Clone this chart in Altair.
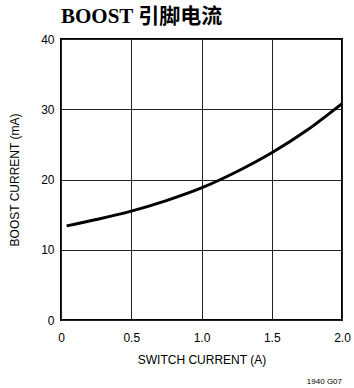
import altair as alt
import pandas as pd

# Data
switch_current = [0.04, 0.25, 0.5, 0.75, 1.0, 1.25, 1.5, 1.75, 2.0]
boost_current = [13.4, 14.3, 15.5, 17.0, 18.8, 21.1, 23.8, 27.0, 30.8]
x_ticks = [0, 0.5, 1.0, 1.5, 2.0]
y_ticks = [0, 10, 20, 30, 40]

df = pd.DataFrame({"x": switch_current, "y": boost_current})

W, H = 281, 281

line = alt.Chart(df).mark_line(color="black", strokeWidth=3, interpolate="monotone").encode(
    x=alt.X("x:Q", scale=alt.Scale(domain=[0, 2], nice=False),
            axis=alt.Axis(values=x_ticks, title="SWITCH CURRENT (A)",
                          labelExpr="datum.value == 0 ? '0' : format(datum.value, '.1f')",
                          labelFlush=False, labelPadding=12, titlePadding=11)),
    y=alt.Y("y:Q", scale=alt.Scale(domain=[0, 40], nice=False),
            axis=alt.Axis(values=y_ticks, title="BOOST CURRENT (mA)",
                          labelFlush=False, labelPadding=7, titlePadding=19)),
)

footer = alt.Chart(pd.DataFrame({"t": ["1940 G07"]})).mark_text(
    align="right", baseline="middle", fontSize=8, font="Liberation Sans", color="black"
).encode(x=alt.value(W), y=alt.value(H + 62), text="t:N")

chart = alt.layer(line, footer).properties(
    width=W, height=H,
    title=alt.Title("BOOST 引脚电流", anchor="start", frame="group",
                    font="Liberation Serif, Noto Sans CJK SC", fontSize=21,
                    fontWeight="bold", color="black", offset=6),
    autosize=alt.AutoSizeParams(type="none"),
    padding={"left": 61, "top": 39, "right": 12, "bottom": 68},
).configure_view(
    stroke="black", strokeWidth=2
).configure_axis(
    grid=True, gridColor="#222", gridWidth=1, gridOpacity=1,
    domain=False, ticks=False, tickSize=0,
    labelFont="Liberation Sans", labelFontSize=12, labelColor="black",
    titleFont="Liberation Sans", titleFontSize=12, titleFontWeight="normal", titleColor="black",
)

chart.save("out.html", embed_options={"renderer": "svg", "actions": False})
